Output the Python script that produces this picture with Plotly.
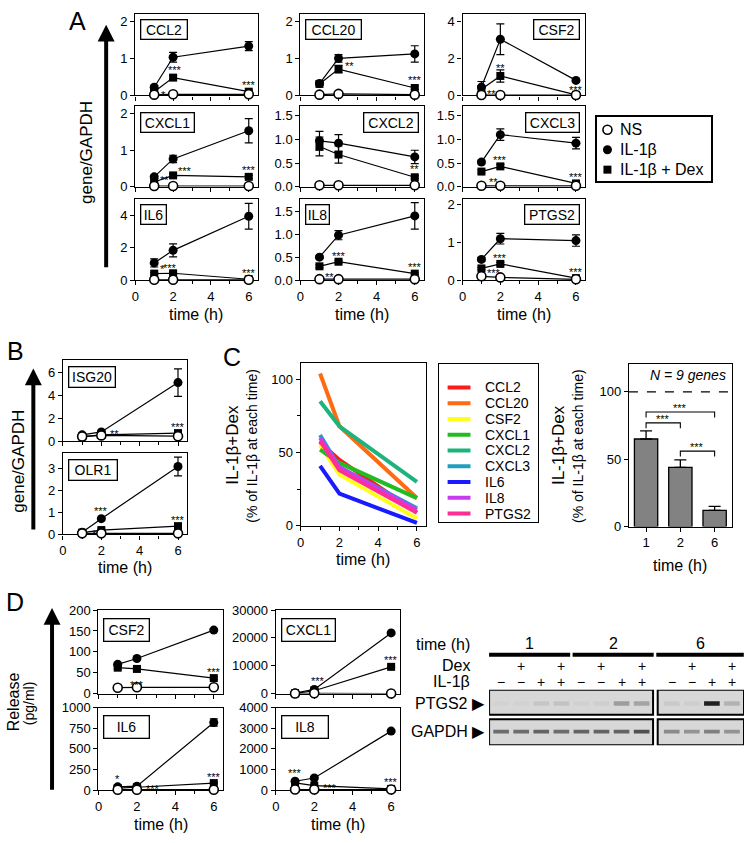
import plotly.graph_objects as go

W, H = 745, 843
FONT = "Liberation Sans, Arial, Helvetica, sans-serif"

times = [1, 2, 6]

# ---------------- Panel A data (gene/GAPDH) ----------------
genes_A = ["CCL2", "CCL20", "CSF2", "CXCL1", "CXCL2", "CXCL3", "IL6", "IL8", "PTGS2"]
ns_A = {
    "CCL2": [0.02, 0.03, 0.03], "CCL20": [0.02, 0.04, 0.02], "CSF2": [0.02, 0.02, 0.02],
    "CXCL1": [0.02, 0.02, 0.02], "CXCL2": [0.03, 0.03, 0.03], "CXCL3": [0.02, 0.02, 0.02],
    "IL6": [0.02, 0.02, 0.02], "IL8": [0.02, 0.02, 0.02], "PTGS2": [0.10, 0.07, 0.02],
}
il1b_A = {
    "CCL2": [0.22, 1.03, 1.33], "CCL20": [0.32, 1.00, 1.12], "CSF2": [0.45, 3.03, 0.81],
    "CXCL1": [0.27, 0.76, 1.53], "CXCL2": [0.97, 0.92, 0.63], "CXCL3": [0.52, 1.10, 0.92],
    "IL6": [1.06, 1.84, 3.95], "IL8": [0.50, 0.98, 1.40], "PTGS2": [0.55, 1.10, 1.05],
}
il1b_err_A = {
    "CCL2": [0.05, 0.13, 0.12], "CCL20": [0.03, 0.10, 0.22], "CSF2": [0.30, 0.83, 0.08],
    "CXCL1": [0.05, 0.10, 0.33], "CXCL2": [0.20, 0.18, 0.14], "CXCL3": [0.04, 0.12, 0.12],
    "IL6": [0.25, 0.40, 0.80], "IL8": [0.03, 0.10, 0.29], "PTGS2": [0.05, 0.14, 0.15],
}
dex_A = {
    "CCL2": [0.10, 0.48, 0.10], "CCL20": [0.31, 0.71, 0.20], "CSF2": [0.33, 1.05, 0.03],
    "CXCL1": [0.13, 0.31, 0.27], "CXCL2": [0.85, 0.68, 0.20], "CXCL3": [0.32, 0.43, 0.07],
    "IL6": [0.40, 0.42, 0.05], "IL8": [0.30, 0.40, 0.14], "PTGS2": [0.31, 0.43, 0.05],
}
dex_err_A = {
    "CCL2": [0.03, 0.05, 0.03], "CCL20": [0.03, 0.10, 0.04], "CSF2": [0.15, 0.33, 0.02],
    "CXCL1": [0.03, 0.04, 0.04], "CXCL2": [0.20, 0.18, 0.03], "CXCL3": [0.03, 0.04, 0.02],
    "IL6": [0.08, 0.08, 0.02], "IL8": [0.03, 0.03, 0.02], "PTGS2": [0.03, 0.04, 0.02],
}
yticks_A = {
    "CCL2": [0, 1, 2], "CCL20": [0, 1, 2], "CSF2": [0, 2, 4], "CXCL1": [0, 1, 2],
    "CXCL2": [0, 0.5, 1.0, 1.5], "CXCL3": [0, 0.5, 1.0, 1.5], "IL6": [0, 2, 4],
    "IL8": [0, 0.5, 1.0, 1.5], "PTGS2": [0, 1, 2],
}
ymax_A = {"CCL2": 2.2, "CCL20": 2.2, "CSF2": 4.4, "CXCL1": 2.2, "CXCL2": 1.7,
          "CXCL3": 1.7, "IL6": 5.05, "IL8": 1.78, "PTGS2": 2.17}
# significance marks: (time index, series, text, x shift px, y shift px)
stars_A = {
    "CCL2": [(0, "dex", "*", 9, -3), (1, "dex", "***", 2, 8), (2, "dex", "***", 0, 7)],
    "CCL20": [(1, "il", "**", 11, -8), (2, "dex", "***", 0, 8)],
    "CSF2": [(0, "dex", "**", 10, -5), (1, "dex", "**", 0, 8), (2, "dex", "***", 0, 5)],
    "CXCL1": [(0, "dex", "**", 10, 2), (1, "dex", "***", 12, 4), (2, "dex", "***", 0, 7)],
    "CXCL2": [(2, "dex", "**", 0, 8)],
    "CXCL3": [(0, "dex", "**", 12, -10), (1, "dex", "***", 0, 6), (2, "dex", "***", 0, 6)],
    "IL6": [(0, "dex", "*", 8, 5), (1, "dex", "***", -3, 5), (2, "dex", "***", 0, 6)],
    "IL8": [(0, "ns", "**", 10, 2), (1, "dex", "***", 0, 6), (2, "dex", "***", 0, 7)],
    "PTGS2": [(0, "ns", "***", 13, 3), (1, "dex", "***", 0, 6), (2, "dex", "***", 0, 6)],
}

# ---------------- Panel B data ----------------
genes_B = ["ISG20", "OLR1"]
ns_B = {"ISG20": [0.40, 0.50, 0.43], "OLR1": [0.05, 0.05, 0.05]}
il1b_B = {"ISG20": [0.55, 0.80, 5.10], "OLR1": [0.10, 0.72, 3.10]}
il1b_err_B = {"ISG20": [0.05, 0.10, 1.20], "OLR1": [0.03, 0.05, 0.43]}
dex_B = {"ISG20": [0.40, 0.55, 0.70], "OLR1": [0.08, 0.20, 0.38]}
dex_err_B = {"ISG20": [0.05, 0.05, 0.08], "OLR1": [0.02, 0.03, 0.05]}
yticks_B = {"ISG20": [0, 2, 4, 6], "OLR1": [0, 1, 2, 3]}
ymax_B = {"ISG20": 7.1, "OLR1": 3.72}
stars_B = {
    "ISG20": [(1, "dex", "**", 13, 1), (2, "dex", "***", 0, 6)],
    "OLR1": [(0, "dex", "*", 12, -1), (1, "il", "***", 0, 8), (2, "dex", "***", 0, 6)],
}

# ---------------- Panel C data ----------------
genes_C = ["CCL2", "CCL20", "CSF2", "CXCL1", "CXCL2", "CXCL3", "IL6", "IL8", "PTGS2"]
colors_C = ["#ff1a1a", "#ff6a13", "#ffff1a", "#22bb22", "#1db37c", "#1f9fbf",
            "#1a1aff", "#c83cf0", "#ff2e96"]
pct_C = {
    "CCL2": [57, 45, 9], "CCL20": [104, 68, 19], "CSF2": [55, 35, 5],
    "CXCL1": [52, 43, 19], "CXCL2": [85, 68, 30], "CXCL3": [62, 40, 12],
    "IL6": [41, 22, 2], "IL8": [60, 40, 11], "PTGS2": [58, 38, 9],
}
bar_labels = ["1", "2", "6"]
bar_mean = [65, 44, 12]
bar_err = [6, 5.5, 3]
# comparisons: (from category, to category, bracket height, text)
brackets = [(0, 1, 77, "***"), (0, 2, 85, "***"), (1, 2, 56, "***")]

# ---------------- Panel D data (release, pg/ml) ----------------
genes_D = ["CSF2", "CXCL1", "IL6", "IL8"]
ns_D = {"CSF2": [14, 15, 15], "CXCL1": [0, 100, 0], "IL6": [5, 5, 5], "IL8": [30, 30, 30]}
il1b_D = {"CSF2": [70, 84, 152], "CXCL1": [200, 1500, 21800], "IL6": [40, 48, 820],
          "IL8": [430, 585, 2860]}
il1b_err_D = {"CSF2": [3, 3, 3], "CXCL1": [100, 200, 400], "IL6": [5, 5, 45],
              "IL8": [40, 40, 60]}
dex_D = {"CSF2": [62, 59, 37], "CXCL1": [100, 1000, 9600], "IL6": [25, 35, 85],
         "IL8": [350, 220, 60]}
dex_err_D = {"CSF2": [3, 3, 3], "CXCL1": [50, 100, 300], "IL6": [5, 5, 8],
             "IL8": [30, 20, 10]}
yticks_D = {"CSF2": [0, 50, 100, 150, 200], "CXCL1": [0, 10000, 20000, 30000],
            "IL6": [0, 250, 500, 750, 1000], "IL8": [0, 1000, 2000, 3000, 4000]}
ymax_D = {"CSF2": 200, "CXCL1": 30000, "IL6": 1000, "IL8": 4000}
stars_D = {
    "CSF2": [(1, "dex", "***", 0, -16), (2, "dex", "***", 0, 6)],
    "CXCL1": [(1, "il", "***", 4, 8), (2, "dex", "***", 0, 7)],
    "IL6": [(0, "il", "*", 0, 8), (1, "dex", "***", 16, -2), (2, "dex", "***", 0, 6)],
    "IL8": [(0, "il", "***", 0, 8), (1, "dex", "***", 16, -2), (2, "dex", "***", 0, 7)],
}

# ---------------- Western blot ----------------
blot_times = ["1", "2", "6"]
dex_signs = ["", "+", "", "+"] * 3
il1b_signs = ["\u2212", "\u2212", "+", "+"] * 3
ptgs2_band = [0.02, 0.02, 0.08, 0.10, 0.03, 0.04, 0.30, 0.26, 0.06, 0.04, 0.95, 0.18]
gapdh_band = [0.55, 0.55, 0.60, 0.55, 0.60, 0.60, 0.60, 0.70, 0.40, 0.35, 0.45, 0.35]

# =====================================================================
fig = go.Figure()
annotations = []
shapes = []
axis_count = [0]


def fx(p):
    return p / W


def fy(p):
    return 1 - p / H


AX = dict(showline=True, linecolor="black", linewidth=1.3, mirror=True, ticks="outside",
          ticklen=4, tickwidth=1.2, tickcolor="black", showgrid=False, zeroline=False,
          tickfont=dict(size=13, color="black", family=FONT), fixedrange=True,
          layer="below traces")


def new_axes(box, xkw, ykw):
    axis_count[0] += 1
    n = axis_count[0]
    s = "" if n == 1 else str(n)
    l, t, r, b = box
    xa = dict(AX)
    xa.update(domain=[fx(l), fx(r)], anchor="y" + s)
    xa.update(xkw)
    ya = dict(AX)
    ya.update(domain=[fy(b), fy(t)], anchor="x" + s)
    ya.update(ykw)
    fig.update_layout(**{"xaxis" + s: xa, "yaxis" + s: ya})
    return "x" + s, "y" + s


def time_xkw(show):
    return dict(range=[0, 6.47], tickvals=[0, 2, 4, 6], ticktext=["0", "2", "4", "6"],
                showticklabels=show,
                minor=dict(tickvals=[1, 3, 5], ticks="outside", ticklen=3, tickwidth=1.2,
                           tickcolor="black"))


def fmt(v, dec):
    return f"{v:.1f}" if dec else f"{int(v)}"


def paper_text(txt, x, y, size, xanchor="center", angle=0, **kw):
    d = dict(x=fx(x), y=fy(y), xref="paper", yref="paper", text=txt, showarrow=False,
             xanchor=xanchor, yanchor="middle", textangle=angle,
             font=dict(size=size, color="black"))
    d.update(kw)
    annotations.append(d)


MARK = {
    "il": dict(symbol="circle", size=9, color="black"),
    "dex": dict(symbol="square", size=8, color="black"),
    "ns": dict(symbol="circle", size=9, color="white", line=dict(color="black", width=1.6)),
}


def time_panel(box, gene, ymax, yticks, series, errs, stars, show_x, label_side, label_w,
               label_dy=5.5, label_h=21):
    dec = any(isinstance(v, float) and v != int(v) for v in yticks)
    xa, ya = new_axes(box, time_xkw(show_x),
                      dict(range=[0, ymax], tickvals=yticks,
                           ticktext=[fmt(v, dec) for v in yticks]))
    for key in ["il", "dex", "ns"]:
        e = errs.get(key)
        fig.add_trace(go.Scatter(
            x=times, y=series[key], mode="lines+markers", xaxis=xa, yaxis=ya,
            line=dict(color="black", width=1.2), marker=MARK[key], cliponaxis=False,
            hoverinfo="skip",
            error_y=dict(type="data", array=e, visible=e is not None, color="black",
                         thickness=1.2, width=4)))
    for ti, key, txt, dx, dy in stars:
        annotations.append(dict(x=times[ti], y=series[key][ti], xref=xa, yref=ya, text=txt,
                                showarrow=False, xshift=dx, yshift=dy,
                                xanchor="center", yanchor="middle",
                                font=dict(size=11, color="black")))
    left = label_side == "left"
    annotations.append(dict(
        x=0 if left else 1, y=1, xref=xa + " domain", yref=ya + " domain",
        xanchor="left" if left else "right", yanchor="top",
        xshift=4.7 if left else -4.7, yshift=-label_dy, text=gene, showarrow=False,
        font=dict(size=14, color="black"), bgcolor="white", bordercolor="black",
        borderwidth=1.3, borderpad=1, width=label_w - 4.6, height=label_h - 4.6))
    return xa, ya


# ---------------- Panel A ----------------
cols_A = [(132, 255), (298, 422), (461, 584)]
rows_A = [(7, 90), (101, 183), (195, 278)]
side_A = {"CCL2": "left", "CCL20": "left", "CSF2": "right", "CXCL1": "left",
          "CXCL2": "right", "CXCL3": "right", "IL6": "left", "IL8": "left", "PTGS2": "right"}
width_A = {"CCL2": 48, "CCL20": 57, "CSF2": 47, "CXCL1": 55, "CXCL2": 56, "CXCL3": 55,
           "IL6": 27, "IL8": 25, "PTGS2": 56}
for i, g in enumerate(genes_A):
    r, c = divmod(i, 3)
    box = (cols_A[c][0], rows_A[r][0], cols_A[c][1], rows_A[r][1])
    time_panel(box, g, ymax_A[g], yticks_A[g],
               {"ns": ns_A[g], "il": il1b_A[g], "dex": dex_A[g]},
               {"il": il1b_err_A[g], "dex": dex_err_A[g]},
               stars_A[g], r == 2, side_A[g], width_A[g])

# legend of panel A (drawn in its own little frame)
lx, ly = new_axes((596, 112, 711, 177),
                  dict(range=[0, 115], ticks="", showticklabels=False, linewidth=1.5),
                  dict(range=[65, 0], ticks="", showticklabels=False, linewidth=1.5))
legend_A = [("ns", "NS"), ("il", "IL-1β"), ("dex", "IL-1β + Dex")]
for k, (key, name) in enumerate(legend_A):
    fig.add_trace(go.Scatter(x=[10.7], y=[13 + 20.3 * k], mode="markers", xaxis=lx, yaxis=ly,
                             marker=MARK[key], hoverinfo="skip", cliponaxis=False))
    annotations.append(dict(x=21, y=13 + 20.3 * k, xref=lx, yref=ly, text=name,
                            xanchor="left", yanchor="middle", showarrow=False,
                            font=dict(size=16, color="black")))

# ---------------- Panel B ----------------
rows_B = [(359, 442), (454, 537)]
width_B = {"ISG20": 48, "OLR1": 50}
for i, g in enumerate(genes_B):
    box = (59.3, rows_B[i][0], 184, rows_B[i][1])
    time_panel(box, g, ymax_B[g], yticks_B[g],
               {"ns": ns_B[g], "il": il1b_B[g], "dex": dex_B[g]},
               {"il": il1b_err_B[g], "dex": dex_err_B[g]},
               stars_B[g], i == 1, "left", width_B[g], label_dy=6, label_h=22)

# ---------------- Panel C (left: lines) ----------------
cx, cy = new_axes((298.3, 362.7, 424.3, 528.3), time_xkw(True),
                  dict(range=[0, 111], tickvals=[0, 50, 100],
                       minor=dict(tickvals=[25, 75], ticks="outside", ticklen=3,
                                  tickwidth=1.2, tickcolor="black")))
for g, col in zip(genes_C, colors_C):
    fig.add_trace(go.Scatter(x=times, y=pct_C[g], mode="lines", xaxis=cx, yaxis=cy,
                             line=dict(color=col, width=4), hoverinfo="skip"))

# legend of panel C
gx, gy = new_axes((437.7, 363, 537.3, 524),
                  dict(range=[0, 99.6], ticks="", showticklabels=False),
                  dict(range=[161, 0], ticks="", showticklabels=False))
for k, (g, col) in enumerate(zip(genes_C, colors_C)):
    yy = 24.3 + 16.05 * k
    fig.add_trace(go.Scatter(x=[8.3, 31.3], y=[yy, yy], mode="lines", xaxis=gx, yaxis=gy,
                             line=dict(color=col, width=4), hoverinfo="skip"))
    annotations.append(dict(x=44, y=yy, xref=gx, yref=gy, text=g, xanchor="left",
                            yanchor="middle", showarrow=False,
                            font=dict(size=14, color="black")))

# ---------------- Panel C (right: bars) ----------------
bx, by = new_axes((628.3, 363, 731.7, 529),
                  dict(range=[-0.5, 2.5], tickvals=[0, 1, 2], ticktext=bar_labels),
                  dict(range=[0, 121], tickvals=[0, 50, 100]))
fig.add_trace(go.Bar(x=[0, 1, 2], y=bar_mean, width=0.68, xaxis=bx, yaxis=by,
                     marker=dict(color="#828282", line=dict(color="black", width=1.3)),
                     error_y=dict(type="data", array=bar_err, arrayminus=[0, 0, 0],
                                  symmetric=False, color="black", thickness=1.3, width=6),
                     hoverinfo="skip"))
shapes.append(dict(type="line", xref=bx + " domain", yref=by, x0=0, x1=1, y0=100, y1=100,
                   line=dict(color="black", width=1.3, dash="dash")))
for a, b, hgt, txt in brackets:
    shapes.append(dict(type="path", xref=bx, yref=by,
                       path=f"M {a},{hgt - 4} L {a},{hgt} L {b},{hgt} L {b},{hgt - 4}",
                       line=dict(color="black", width=1.1)))
    annotations.append(dict(x=(a + b) / 2, y=hgt, xref=bx, yref=by, text=txt,
                            showarrow=False, yshift=4, xanchor="center", yanchor="middle",
                            font=dict(size=11, color="black")))
annotations.append(dict(x=1, y=1, xref=bx + " domain", yref=by + " domain",
                        text="<i>N = 9 genes</i>", xanchor="right", yanchor="top",
                        xshift=-4, yshift=-1, showarrow=False,
                        font=dict(size=14, color="black")))

# ---------------- Panel D ----------------
cols_D = [(95, 220), (273.3, 398.3)]
rows_D = [(614, 699), (713.3, 797.3)]
width_D = {"CSF2": 47, "CXCL1": 55, "IL6": 47, "IL8": 48}
for i, g in enumerate(genes_D):
    r, c = divmod(i, 2)
    box = (cols_D[c][0], rows_D[r][0], cols_D[c][1], rows_D[r][1])
    time_panel(box, g, ymax_D[g], yticks_D[g],
               {"ns": ns_D[g], "il": il1b_D[g], "dex": dex_D[g]},
               {"il": il1b_err_D[g], "dex": dex_err_D[g]},
               stars_D[g], r == 1, "left", width_D[g], label_dy=7.5, label_h=23.5)

# ---------------- Western blot ----------------
wx, wy = new_axes((487.7, 695, 744, 751.7),
                  dict(range=[-0.6, 12.1], visible=False),
                  dict(range=[0, 2], visible=False))
lanes = [i + (0.5 if i >= 8 else 0) for i in range(12)]


def band_color(v):
    g = int(214 - 190 * v)
    return f"rgb({g},{g},{g})"


for row_c, vals, hgt in [(1.5, ptgs2_band, 0.16), (0.49, gapdh_band, 0.13)]:
    fig.add_trace(go.Bar(x=lanes, y=[hgt] * 12, base=[row_c - hgt / 2] * 12, width=0.78,
                         xaxis=wx, yaxis=wy, hoverinfo="skip",
                         marker=dict(color=[band_color(v) for v in vals], line=dict(width=0))))
for x0, x1 in [(-0.6, 7.57), (7.8, 12.1)]:
    for y0, y1 in [(1.094, 2.0), (0.0, 0.94)]:
        shapes.append(dict(type="rect", xref=wx, yref=wy, x0=x0, x1=x1, y0=y0, y1=y1,
                           fillcolor="#d7d7d7", line=dict(color="black", width=2),
                           layer="below"))
segs = [(-0.6, 3.44), (3.56, 7.6), (7.73, 12.09)]
for (x0, x1), t in zip(segs, blot_times):
    shapes.append(dict(type="rect", xref=wx, yref="paper", x0=x0, x1=x1, y0=fy(661.5),
                       y1=fy(657.5), fillcolor="black", line=dict(width=0)))
    annotations.append(dict(x=(x0 + x1) / 2, y=fy(648), xref=wx, yref="paper", text=t,
                            showarrow=False, xanchor="center", yanchor="middle",
                            font=dict(size=16, color="black")))
for k, lane in enumerate(lanes):
    if dex_signs[k]:
        annotations.append(dict(x=lane, y=fy(671), xref=wx, yref="paper",
                                text=dex_signs[k], showarrow=False, xanchor="center",
                                yanchor="middle", font=dict(size=14, color="black")))
    annotations.append(dict(x=lane, y=fy(687), xref=wx, yref="paper", text=il1b_signs[k],
                            showarrow=False, xanchor="center", yanchor="middle",
                            font=dict(size=14, color="black")))
for txt, yy in [("time (h)", 649.3), ("Dex", 670.7), ("IL-1β", 686.7),
                ("PTGS2 \u25B6", 709.3), ("GAPDH \u25B6", 737.7)]:
    paper_text(txt, 486 if "\u25B6" in txt else 471, yy, 16, xanchor="right")

# ---------------- Titles, axis labels, arrows ----------------
for txt, x, y in [("A", 74, 14), ("B", 12, 350), ("C", 229, 356), ("D", 11, 606)]:
    paper_text(txt, x, y, 25)

time_labels = [(193.5, 313), (360, 313), (522.5, 313), (121.7, 570.7), (361, 562.7),
               (680, 568.3), (157.5, 832), (335.8, 832)]
for x, y in time_labels:
    paper_text("time (h)", x, y, 16)

rot_labels = [("gene/GAPDH", 83, 148, 17), ("gene/GAPDH", 15, 462, 17),
              ("IL-1β+Dex", 229, 446, 17), ("(% of IL-1β at each time)", 249, 447, 14),
              ("IL-1β+Dex", 557, 446, 17), ("(% of IL-1β at each time)", 577, 447, 14),
              ("Release", 9, 707, 16), ("(pg/ml)", 26, 709, 14)]
for txt, x, y, s in rot_labels:
    paper_text(txt, x, y, s, angle=-90)

for x, tip, bottom in [(102.7, 18, 265), (29.5, 368, 532), (48.3, 612, 797)]:
    shapes.append(dict(type="rect", xref="paper", yref="paper", x0=fx(x - 2), x1=fx(x + 2),
                       y0=fy(bottom), y1=fy(tip + 14), fillcolor="black", line=dict(width=0)))
    shapes.append(dict(type="path", xref="paper", yref="paper",
                       path=f"M {fx(x - 8.5)},{fy(tip + 17)} L {fx(x)},{fy(tip)} "
                            f"L {fx(x + 8.5)},{fy(tip + 17)} Z",
                       fillcolor="black", line=dict(width=0)))

fig.update_layout(width=W, height=H, margin=dict(l=0, r=0, t=0, b=0),
                  paper_bgcolor="white", plot_bgcolor="rgba(0,0,0,0)", showlegend=False,
                  font=dict(family=FONT, color="black"), annotations=annotations,
                  shapes=shapes, barmode="overlay")
fig.write_html("out.html", config={"displayModeBar": False},
               post_script="document.body.style.margin='0';"
                           "document.body.style.overflow='hidden';")
